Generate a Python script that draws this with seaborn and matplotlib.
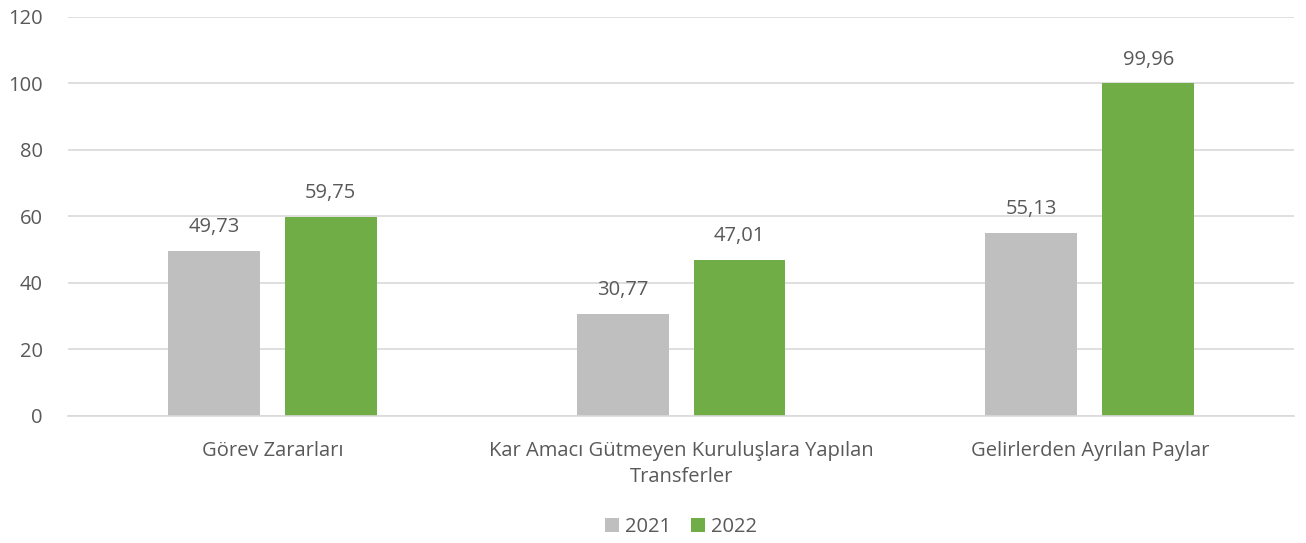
import pandas as pd
import matplotlib.pyplot as plt
import seaborn as sns

categories = ["Görev Zararları",
              "Kar Amacı Gütmeyen Kuruluşlara Yapılan\nTransferler",
              "Gelirlerden Ayrılan Paylar"]
years = ["2021", "2022"]
values_2021 = [49.73, 30.77, 55.13]
values_2022 = [59.75, 47.01, 99.96]

colors = {"2021": "#BFBFBF", "2022": "#70AD47"}
text_color = "#595959"

df = pd.DataFrame({
    "Kategori": categories * 2,
    "Yıl": [years[0]] * 3 + [years[1]] * 3,
    "Değer": values_2021 + values_2022,
})

sns.set_style("white")
plt.rcParams["font.family"] = ["Open Sans", "DejaVu Sans"]

fig = plt.figure(figsize=(13.06, 5.43), dpi=100)
ax = fig.add_axes([0.052, 0.234, 0.939, 0.735])

sns.barplot(data=df, x="Kategori", y="Değer", hue="Yıl", hue_order=years,
            palette=colors, width=0.572, gap=0.214, saturation=1,
            errorbar=None, linewidth=0, ax=ax)

for cont in ax.containers:
    labels = [f"{b.get_height():.2f}".replace(".", ",") for b in cont]
    ax.bar_label(cont, labels=labels, padding=10, fontsize=14.5, color=text_color)

ax.set_ylim(0, 120)
ax.set_yticks(range(0, 121, 20))
ax.set_xlim(-0.5, 2.5)
ax.yaxis.grid(True, color="#D9D9D9", linewidth=1.2)
ax.set_axisbelow(True)
for s in ["top", "right", "left"]:
    ax.spines[s].set_visible(False)
ax.spines["bottom"].set_color("#D9D9D9")
ax.spines["bottom"].set_linewidth(1.2)
ax.tick_params(axis="both", length=0, labelsize=14.5, colors=text_color)
ax.tick_params(axis="y", pad=18)
ax.tick_params(axis="x", pad=18)
for lbl in ax.get_xticklabels():
    lbl.set_linespacing(1.4)
ax.set_xlabel("")
ax.set_ylabel("")

ax.legend(loc="center", bbox_to_anchor=(0.5, -0.278), ncol=2, frameon=False,
          fontsize=14.5, labelcolor=text_color, handlelength=0.7, handleheight=0.7,
          handletextpad=0.3, columnspacing=1.0)

fig.savefig("out.png", dpi=100)
